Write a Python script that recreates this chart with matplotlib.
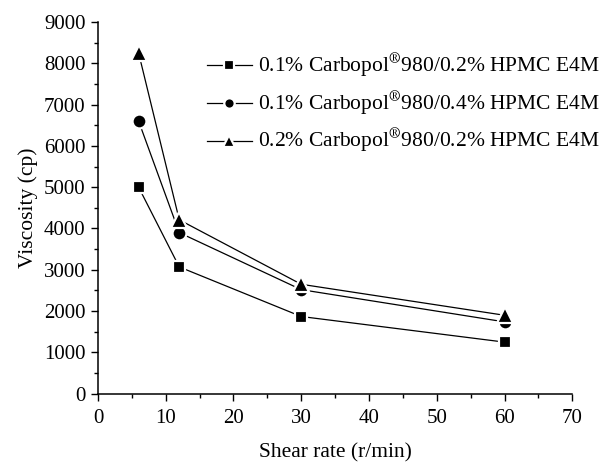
import matplotlib
matplotlib.use("Agg")
import matplotlib.pyplot as plt

plt.rcParams['font.family'] = ['Liberation Serif', 'DejaVu Serif']
plt.rcParams['mathtext.fontset'] = 'stix'

# data
shear_rate = [6, 12, 30, 60]
visc_a = [5000, 3070, 1870, 1250]   # 0.1% / 0.2%
visc_b = [6600, 3900, 2520, 1740]   # 0.1% / 0.4%
visc_c = [8250, 4210, 2650, 1900]   # 0.2% / 0.2%
labels = [r'0.1% Carbopol$^{\circledR}$980/0.2% HPMC E4M',
          r'0.1% Carbopol$^{\circledR}$980/0.4% HPMC E4M',
          r'0.2% Carbopol$^{\circledR}$980/0.2% HPMC E4M']

fig = plt.figure(figsize=(6.16, 4.66), dpi=100)
ax = fig.add_axes([0.159, 0.155, 0.770, 0.798])

style = dict(color='black', lw=0.9, mec='white', mew=1.6, clip_on=False)
ax.plot(shear_rate, visc_a, marker='s', ms=9, label=labels[0], **style)
ax.plot(shear_rate, visc_b, marker='o', ms=10, label=labels[1], **style)
ax.plot(shear_rate, visc_c, marker='^', ms=11, label=labels[2], **style)

ax.set_xlim(0, 70)
ax.set_ylim(0, 9000)
ax.set_xticks(range(0, 71, 10))
ax.set_xticks(range(5, 70, 10), minor=True)
ax.set_yticks(range(0, 9001, 1000))
ax.set_yticks(range(500, 9000, 1000), minor=True)
ax.tick_params(which='both', direction='out', labelsize=15, width=1)
ax.tick_params(which='major', length=5, pad=4)
ax.tick_params(axis='x', which='major', pad=6)
ax.tick_params(which='minor', length=3)
ax.spines['top'].set_visible(False)
ax.spines['right'].set_visible(False)
ax.spines['left'].set_linewidth(1.1)
ax.spines['bottom'].set_linewidth(1.1)

ax.set_xlabel('Shear rate (r/min)', fontsize=15.5, labelpad=11)
ax.set_ylabel('Viscosity (cp)', fontsize=15.5, labelpad=4)

leg = ax.legend(loc='upper right', bbox_to_anchor=(1.10, 0.972), frameon=False,
                fontsize=15.5, handlelength=2.1, handletextpad=0.3,
                labelspacing=0.45, markerscale=0.75)

fig.savefig('out.png', dpi=100)
